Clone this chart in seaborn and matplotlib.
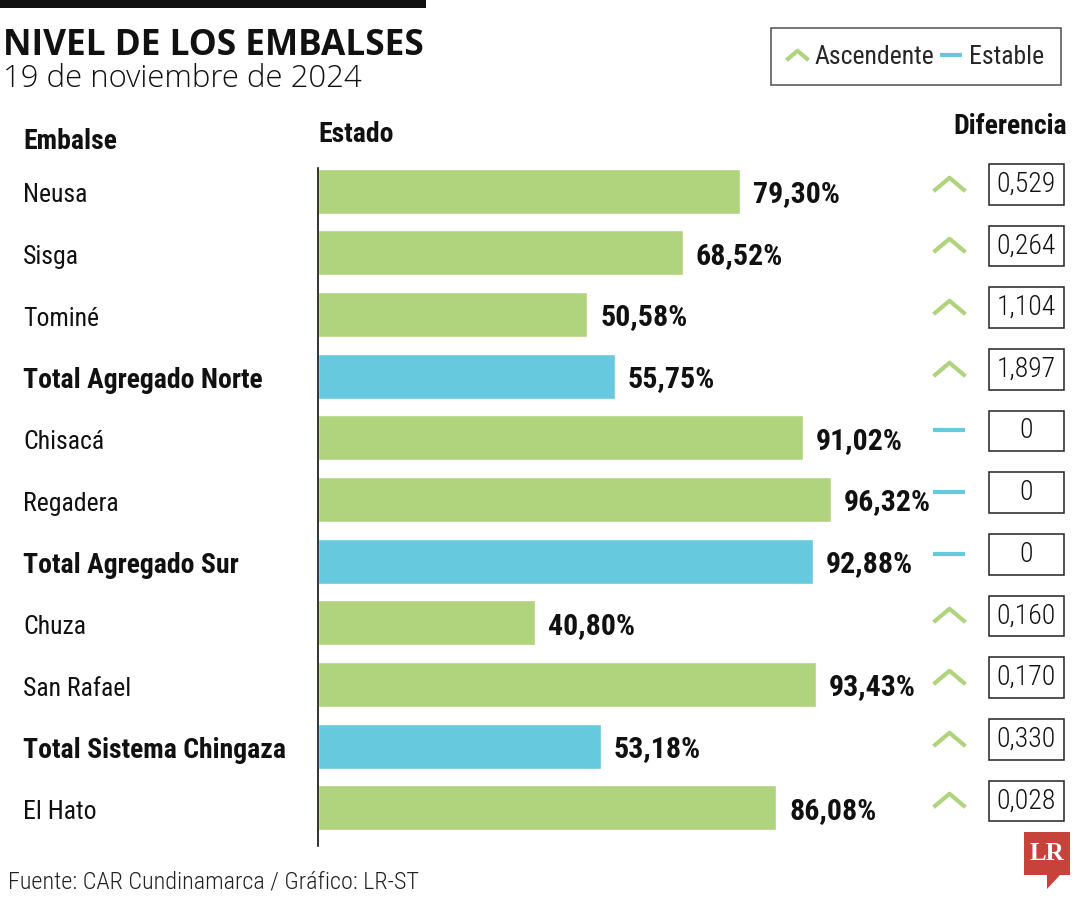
import matplotlib
matplotlib.use("Agg")
import matplotlib.pyplot as plt
import matplotlib.transforms as mtransforms
from matplotlib import font_manager
from matplotlib.path import Path
from matplotlib.patches import Rectangle, Polygon
from matplotlib.lines import Line2D
import seaborn as sns
import pandas as pd

# Data
embalses = ["Neusa", "Sisga", "Tominé", "Total Agregado Norte", "Chisacá",
            "Regadera", "Total Agregado Sur", "Chuza", "San Rafael",
            "Total Sistema Chingaza", "El Hato"]
nivel = [79.30, 68.52, 50.58, 55.75, 91.02, 96.32, 92.88, 40.80, 93.43, 53.18, 86.08]
tipo = ["Embalse", "Embalse", "Embalse", "Total", "Embalse", "Embalse", "Total",
        "Embalse", "Embalse", "Total", "Embalse"]
tendencia = ["Ascendente", "Ascendente", "Ascendente", "Ascendente", "Estable",
             "Estable", "Estable", "Ascendente", "Ascendente", "Ascendente", "Ascendente"]
diferencia = ["0,529", "0,264", "1,104", "1,897", "0", "0", "0",
              "0,160", "0,170", "0,330", "0,028"]

GREEN = "#b0d37e"
BLUE = "#66c9dd"

df = pd.DataFrame({"Embalse": embalses, "Nivel": nivel, "Tipo": tipo})

sns.set_style("white")

# look for a narrow / condensed face among the installed fonts
COND_FAMILY, COND_STRETCH = "DejaVu Sans", "normal"
found = {}
for f in font_manager.fontManager.ttflist:
    st = str(f.stretch).lower()
    nm = f.name.lower()
    if "narrow" in nm or "condensed" in nm:
        found.setdefault(f.name, "normal")
    elif "condensed" in st:
        found.setdefault(f.name, f.stretch)
for pref in ["Roboto Condensed", "Open Sans Condensed", "Open Sans",
             "Liberation Sans Narrow", "DejaVu Sans Condensed", "DejaVu Sans",
             "Noto Sans", "Roboto"]:
    if pref in found:
        COND_FAMILY, COND_STRETCH = pref, found[pref]
        break
else:
    if found:
        COND_FAMILY, COND_STRETCH = next(iter(found.items()))

plt.rcParams["font.family"] = [COND_FAMILY, "DejaVu Sans"]
plt.rcParams["font.stretch"] = COND_STRETCH

W, H = 1080, 900
fig = plt.figure(figsize=(10.8, 9), dpi=100)

def fx(x):
    return x / W

def fy(y):
    return 1 - y / H

# main bar axes (pixel layout)
ax = fig.add_axes([fx(318), fy(846), fx(850.6) - fx(318), fy(167.6) - fy(846)])
sns.barplot(data=df, x="Nivel", y="Embalse", hue="Tipo",
            palette={"Embalse": GREEN, "Total": BLUE},
            dodge=False, width=0.73, legend=False, ax=ax, saturation=1)
ax.set_xlim(0, 100)
ax.set_ylim(10.62, -0.38)
ax.set_xlabel("")
ax.set_ylabel("")
ax.set_xticks([])
ax.set_yticks([])
for s in ["top", "right", "bottom"]:
    ax.spines[s].set_visible(False)
ax.spines["left"].set_color("#111111")
ax.spines["left"].set_linewidth(1.2)

trans = mtransforms.blended_transform_factory(fig.transFigure, ax.transData)

for i, (name, val, t) in enumerate(zip(embalses, nivel, tipo)):
    bold = t == "Total"
    ax.text(fx(23), i + 0.07, name, transform=trans, ha="left", va="center",
            fontsize=20 if bold else 18.5,
            fontweight="bold" if bold else "normal", color="#111111")
    ax.text(val + 2.4, i + 0.05, f"{val:.2f}%".replace(".", ","),
            ha="left", va="center", fontsize=21.5, fontweight="bold",
            color="#111111")

# right column: trend marks and difference boxes
chev = Path([(-1, -0.42), (0, 0.42), (1, -0.42)],
            [Path.MOVETO, Path.LINETO, Path.LINETO])
dash = Path([(-1, 0), (1, 0)], [Path.MOVETO, Path.LINETO])

for i, (tr, d) in enumerate(zip(tendencia, diferencia)):
    if tr == "Ascendente":
        ax.plot([fx(949)], [i - 0.12], transform=trans, marker=chev,
                markersize=23, markeredgewidth=3.0, markeredgecolor=GREEN,
                markerfacecolor="none", linestyle="none", clip_on=False)
    else:
        ax.plot([fx(949)], [i - 0.12], transform=trans, marker=dash,
                markersize=23, markeredgewidth=3.0, markeredgecolor=BLUE,
                linestyle="none", clip_on=False)
    ax.add_patch(Rectangle((fx(989), i - 0.44), fx(75), 0.66, transform=trans,
                           facecolor="white", edgecolor="#222222",
                           linewidth=1.1, clip_on=False))
    ax.text(fx(1026.5), i - 0.11, d, transform=trans, ha="center", va="center",
            fontsize=20, fontweight="light", color="#111111")

# headers
fig.text(fx(23), fy(141), "Embalse", ha="left", va="center", fontsize=20,
         fontweight="bold", color="#111111")
fig.text(fx(318), fy(134), "Estado", ha="left", va="center", fontsize=20,
         fontweight="bold", color="#111111")
fig.text(fx(1067), fy(126), "Diferencia", ha="right", va="center", fontsize=20,
         fontweight="bold", color="#111111")

# title block
fig.add_artist(Rectangle((0, fy(8)), fx(426), 8 / H, transform=fig.transFigure,
                         facecolor="#111111", edgecolor="none"))
fig.text(fx(3), fy(46), "NIVEL DE LOS EMBALSES", ha="left", va="center",
         fontsize=25.4, fontweight="bold", family=["Open Sans", "DejaVu Sans"],
         fontstretch="normal", color="#111111")
fig.text(fx(3), fy(79), "19 de noviembre de 2024", ha="left", va="center",
         fontsize=22.4, fontweight="light", family=["Open Sans", "DejaVu Sans"],
         fontstretch="normal", color="#111111")

# legend
handles = [
    Line2D([], [], marker=chev, markersize=16, markeredgewidth=3,
           markeredgecolor=GREEN, markerfacecolor="none", linestyle="none"),
    Line2D([], [], marker=dash, markersize=16, markeredgewidth=3,
           markeredgecolor=BLUE, linestyle="none"),
]
leg = fig.legend(handles, ["Ascendente", "Estable"], ncol=2,
                 loc="upper right", bbox_to_anchor=(fx(1061), fy(28)),
                 frameon=True, fancybox=False, edgecolor="#222222",
                 fontsize=18.5, handlelength=0.7, handletextpad=0.35,
                 columnspacing=0.3, borderpad=0.65, borderaxespad=0)
leg.get_frame().set_linewidth(1.1)

# footer
fig.text(fx(8), fy(882), "Fuente: CAR Cundinamarca / Gráfico: LR-ST",
         ha="left", va="center", fontsize=17.5, fontweight="light", color="#222222")

# LR logo
RED = "#c8423c"
fig.add_artist(Polygon([(fx(1024), fy(832)), (fx(1070), fy(832)),
                        (fx(1070), fy(875)), (fx(1060), fy(875)),
                        (fx(1047), fy(889)), (fx(1047), fy(875)),
                        (fx(1024), fy(875))], closed=True,
                       transform=fig.transFigure, facecolor=RED,
                       edgecolor="none"))
fig.text(fx(1047), fy(854), "LR", ha="center", va="center", fontsize=18,
         fontweight="bold", family=["Liberation Serif", "DejaVu Serif"],
         fontstretch="normal", color="white")

fig.savefig("out.png", dpi=100)
